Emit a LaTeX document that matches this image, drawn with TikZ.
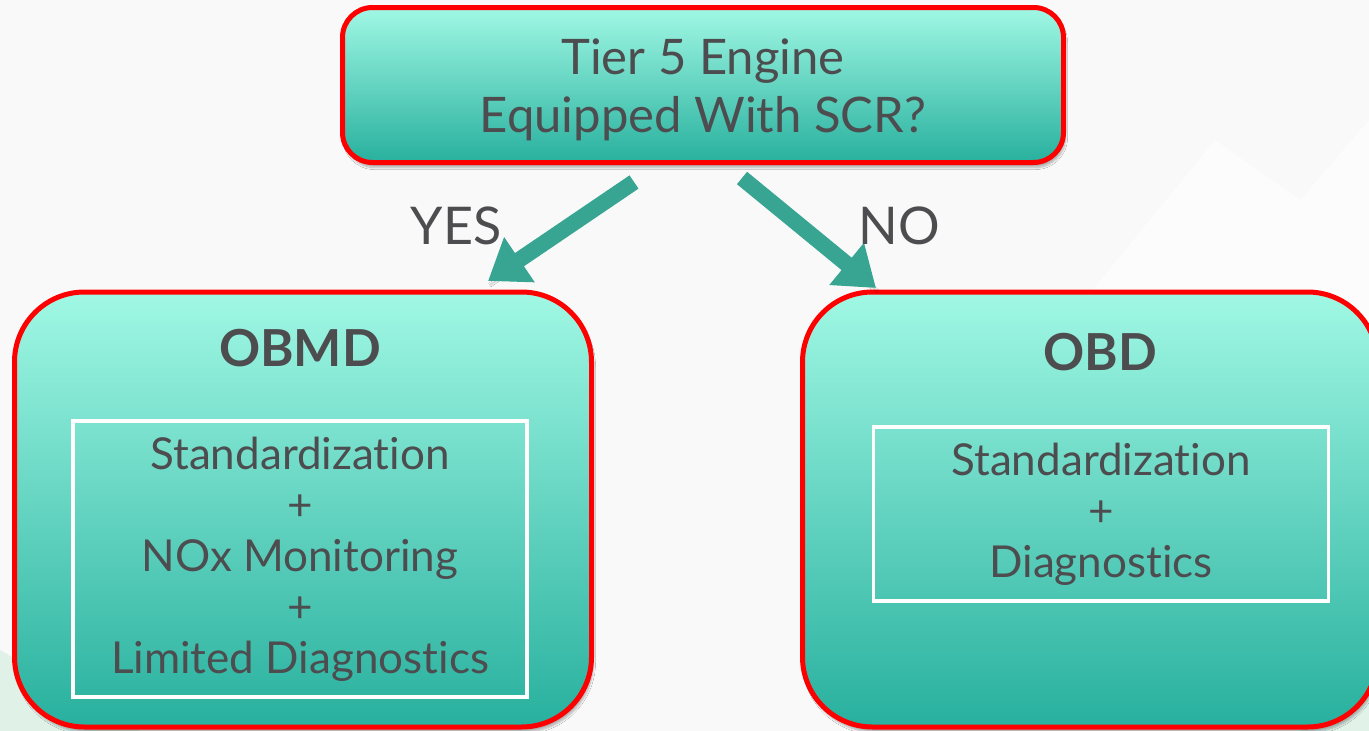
\documentclass[tikz,border=0pt]{standalone}
\usepackage{fontspec}
\setmainfont{Lato}[Ligatures={NoCommon,NoRequired}]
\usetikzlibrary{arrows.meta,shadows.blur}

\definecolor{ink}{RGB}{77,77,80}
\definecolor{mintTop}{RGB}{160,248,228}
\definecolor{mintBot}{RGB}{40,176,158}
\definecolor{frame}{RGB}{255,0,0}
\definecolor{teal}{RGB}{56,165,147}
\definecolor{paper}{RGB}{249,249,249}
\definecolor{leaf}{RGB}{214,238,226}

\tikzset{
  decision/.style={draw=frame, line width=5pt, rounded corners=30pt,
    top color=mintTop, bottom color=mintBot,
    minimum width=721pt, minimum height=155pt,
    blur shadow={shadow xshift=2pt, shadow yshift=-5pt, shadow opacity=30, shadow blur steps=8},
    text=ink, font=\fontsize{49}{58}\selectfont, align=center},
  outcome/.style={draw=frame, line width=5pt, rounded corners=70pt,
    top color=mintTop, bottom color=mintBot,
    minimum height=435pt,
    blur shadow={shadow xshift=2pt, shadow yshift=-5pt, shadow opacity=30, shadow blur steps=8}},
  heading/.style={text=ink, font=\bfseries\fontsize{51}{54}\selectfont},
  featurebox/.style={draw=white, line width=3.5pt, text=ink,
    font=\fontsize{44}{51}\selectfont, align=center, inner sep=0pt},
  branch/.style={text=ink, font=\fontsize{52}{54}\selectfont},
  flow/.style={draw=teal, line width=16pt,
    -{Triangle[length=38pt,width=52pt]}, color=teal,
    blur shadow={shadow xshift=2pt, shadow yshift=-4pt, shadow opacity=25, shadow blur steps=6}}
}

\begin{document}
\begin{tikzpicture}[x=1pt,y=-1pt]
  % canvas
  \fill[paper] (0,0) rectangle (1369,731);
  \useasboundingbox (0,0) rectangle (1369,731);
  \fill[white,opacity=0.5] (1060,330) -- (1215,140) -- (1300,200) -- (1369,120) -- (1369,731) -- (1120,731) -- cycle;
  \fill[leaf,opacity=0.7] (0,650) -- (140,731) -- (0,731) -- cycle;
  \fill[leaf,opacity=0.7] (1300,731) -- (1369,640) -- (1369,731) -- cycle;

  % question box
  \node[decision] (q) at (703,85) {};
  \node[text=ink, font=\fontsize{49}{58}\selectfont, align=center] (qT) at (703,90)
    {Tier 5 Engine\\Equipped With SCR?};

  % outcome boxes
  \node[outcome, minimum width=577pt] (obmd) at (303,509.5) {};
  \node[outcome, minimum width=575pt] (obd) at (1090,509.5) {};

  \node[heading] (obmdT) at (300,348) {OBMD};
  \node[heading] (obdT) at (1100,352) {OBD};

  \node[featurebox, minimum width=454pt, minimum height=276pt] (obmdF) at (300,559)
    {Standardization\\+\\NOx Monitoring\\+\\Limited Diagnostics};
  \node[featurebox, minimum width=455pt, minimum height=174pt] (obdF) at (1101,514)
    {Standardization\\+\\Diagnostics};

  % branch arrows
  \coordinate (yesTail) at (634,182);
  \coordinate (noTail) at (742,178);
  \coordinate (yesTip) at (488,281);
  \coordinate (noTip) at (876,288);
  \draw[flow] (yesTail) -- (yesTip);
  \draw[flow] (noTail) -- (noTip);

  \node[branch] (yes) at (456,226) {YES};
  \node[branch] (no) at (899,226) {NO};
\end{tikzpicture}
\end{document}
